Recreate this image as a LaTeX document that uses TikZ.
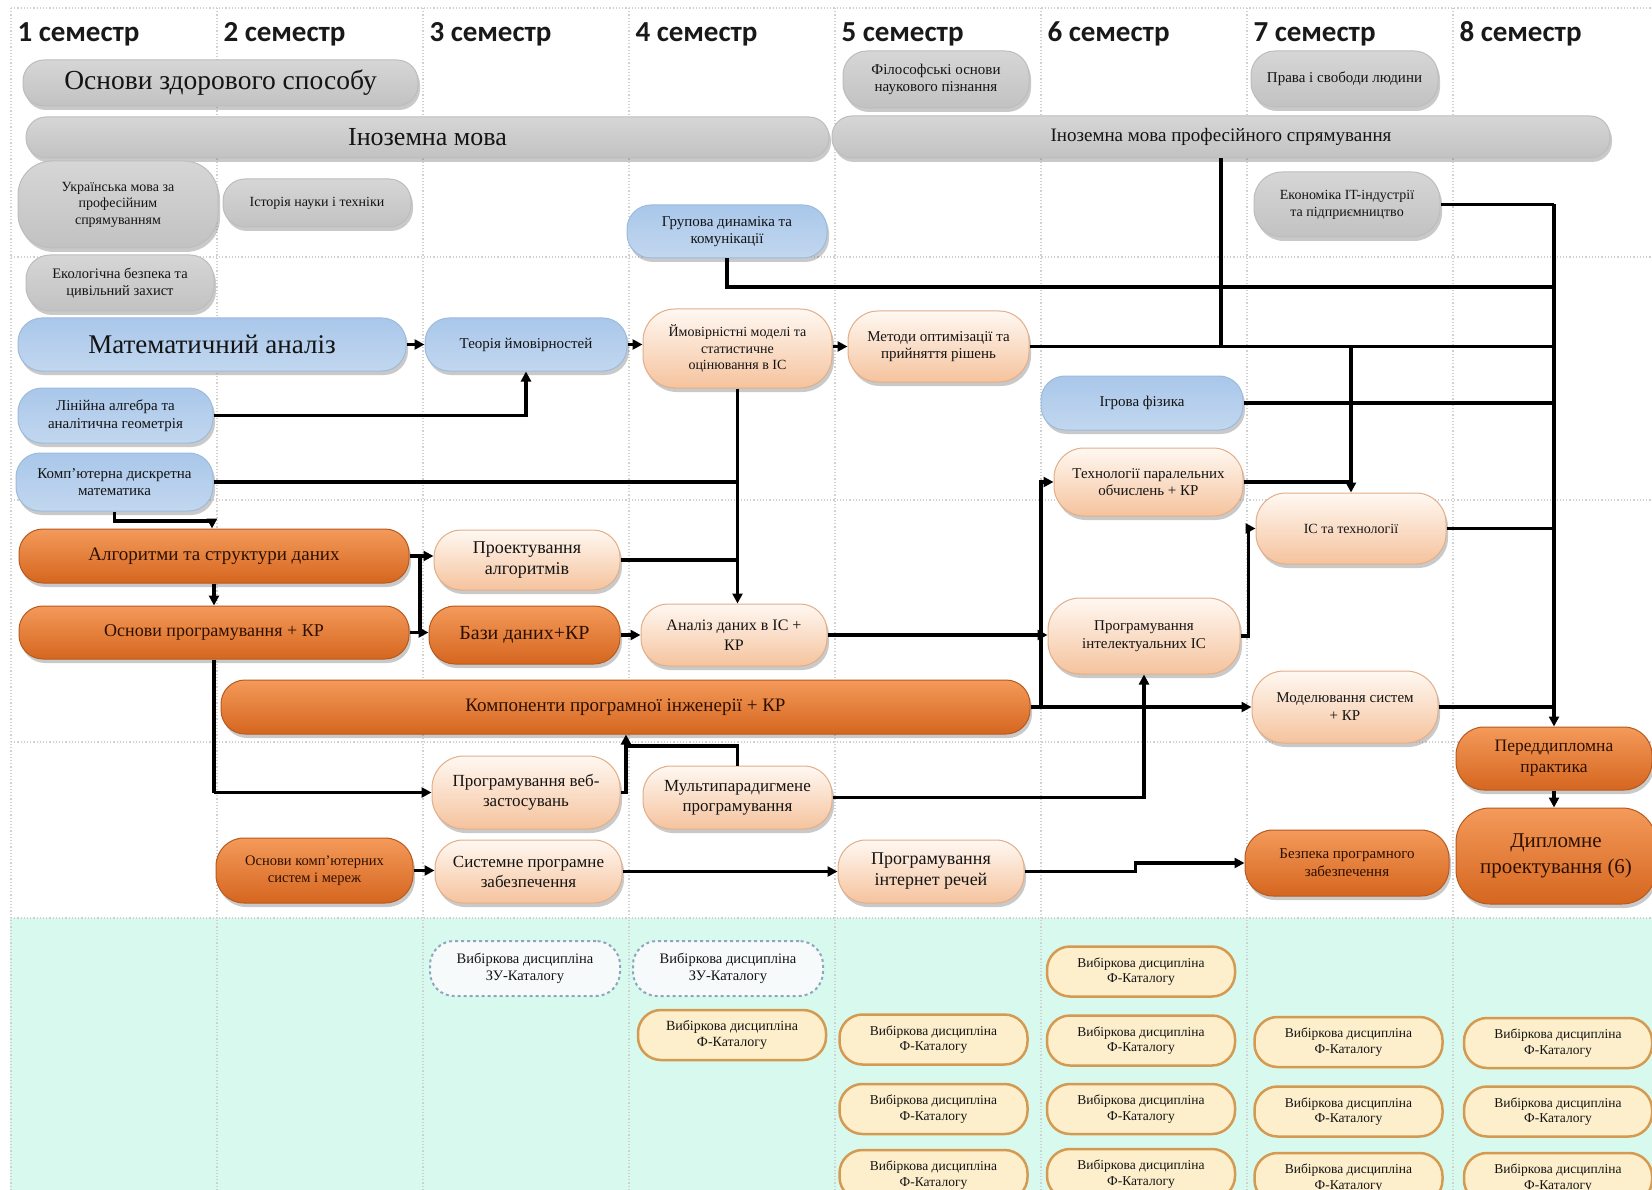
\documentclass[tikz,border=0pt]{standalone}
\usepackage{fontspec}
\setmainfont{Liberation Serif}
\newfontfamily\hdrfont{Carlito}
\usetikzlibrary{shapes.misc,shadows,arrows.meta,calc}
\definecolor{grTop}{HTML}{D6D6D6}
\definecolor{grMid}{HTML}{F4F4F4}
\definecolor{grBot}{HTML}{C2C2C2}
\definecolor{grLine}{HTML}{BDBDBD}
\definecolor{blTop}{HTML}{A9C7EA}
\definecolor{blMid}{HTML}{E6EFFA}
\definecolor{blBot}{HTML}{C2D7EF}
\definecolor{blLine}{HTML}{9DBBDD}
\definecolor{peTop}{HTML}{FFF8F2}
\definecolor{peBot}{HTML}{F5C39D}
\definecolor{peLine}{HTML}{E2AE88}
\definecolor{orTop}{HTML}{F49A5A}
\definecolor{orMid}{HTML}{EC7C37}
\definecolor{orBot}{HTML}{D5661F}
\definecolor{orLine}{HTML}{B85A1E}
\definecolor{orTxt}{HTML}{2E1000}
\definecolor{elFill}{HTML}{FDEFCB}
\definecolor{elLine}{HTML}{D59A52}
\definecolor{zuFill}{HTML}{F7FAFB}
\definecolor{zuLine}{HTML}{8EA6BD}
\definecolor{mint}{HTML}{D8FAEE}
\definecolor{txt}{HTML}{141414}
\definecolor{gridc}{HTML}{D0D0D0}
\tikzset{
  fs/.style 2 args={font=\fontsize{#1}{#2}\selectfont},
  box/.style={draw, rounded corners=24pt, inner sep=2pt, align=center, line width=1pt,
    text=txt, drop shadow={shadow xshift=2pt, shadow yshift=-4pt, opacity=0.35, fill=black!60}},
  graybox/.style={box, top color=grTop, middle color=grMid, bottom color=grBot, draw=grLine},
  bluebox/.style={box, top color=blTop, middle color=blMid, bottom color=blBot, draw=blLine},
  peachbox/.style={box, top color=peTop, bottom color=peBot, draw=peLine},
  orangebox/.style={box, top color=orTop, middle color=orMid, bottom color=orBot, draw=orLine, text=orTxt},
  electbox/.style={draw=elLine, fill=elFill, rounded corners=23pt, line width=2.5pt, align=center,
    text=txt, inner sep=2pt, minimum width=188, minimum height=50, fs={13.5}{15.5}},
  zubox/.style={draw=zuLine, fill=zuFill, rounded corners=24pt, line width=2pt, dashed, align=center,
    text=txt, inner sep=2pt, minimum width=190, minimum height=55, fs={14.5}{16.5}},
  hdr/.style={anchor=west, font=\hdrfont\bfseries\fontsize{29}{32}\selectfont, text=black!90},
  gridl/.style={gridc, dotted, line width=1.2pt},
  conn/.style={line width=3.2pt, black},
  arr/.style={conn, -{Triangle[length=10pt,width=10pt]}},
}
\begin{document}
\begin{tikzpicture}[x=1pt,y=-1pt]
\useasboundingbox (0,0) rectangle (1652,1190);
\clip (0,0) rectangle (1652,1190);
\fill[white] (0,0) rectangle (1652,1190);
\fill[mint] (10,918) rectangle (1652,1190);
\foreach \x in {11,217,423,629,835,1041,1247,1453} \draw[gridl] (\x,8) -- (\x,1190);
\foreach \y in {8,257,500,742,918} \draw[gridl] (11,\y) -- (1652,\y);

% headers
\node[hdr] (h1) at (14,34) {1 семестр};
\node[hdr] (h2) at (220,34) {2 семестр};
\node[hdr] (h3) at (426,34) {3 семестр};
\node[hdr] (h4) at (632,34) {4 семестр};
\node[hdr] (h5) at (838,34) {5 семестр};
\node[hdr] (h6) at (1044,34) {6 семестр};
\node[hdr] (h7) at (1250,34) {7 семестр};
\node[hdr] (h8) at (1456,34) {8 семестр};

% gray
\node[graybox, rounded corners=21pt, fs={27.5}{30}, minimum width=395, minimum height=46] (g1) at (220.5,83) {Основи здорового способу};
\node[graybox, rounded corners=20pt, fs={26}{30}, minimum width=803, minimum height=41] (g2) at (427.5,137.5) {Іноземна мова};
\node[graybox, rounded corners=20pt, fs={19}{22}, minimum width=778, minimum height=42] (g3) at (1221,137) {Іноземна мова професійного спрямування};
\node[graybox, fs={15}{17}, minimum width=186, minimum height=57] (g4) at (936,79.5) {Філософські основи\\наукового пізнання};
\node[graybox, fs={15}{17}, minimum width=187, minimum height=56] (g5) at (1344.5,79) {Права і свободи людини};
\node[graybox, rounded corners=34pt, fs={14}{16.5}, minimum width=200, minimum height=87] (g6) at (118,204.5) {Українська мова за\\професійним\\спрямуванням};
\node[graybox, rounded corners=22pt, fs={14}{16}, minimum width=188, minimum height=48] (g7) at (317,203) {Історія науки і техніки};
\node[graybox, fs={14.5}{17}, minimum width=188, minimum height=56] (g8) at (120,283) {Екологічна безпека та\\цивільний захист};
\node[graybox, rounded corners=28pt, fs={14}{17}, minimum width=186, minimum height=65] (g9) at (1347,204.5) {Економіка IT-індустрії\\та підприємництво};

% blue
\node[bluebox, fs={15}{17}, minimum width=200, minimum height=53] (b1) at (727,231.5) {Групова динаміка та\\комунікації};
\node[bluebox, fs={27}{30}, minimum width=388, minimum height=53] (b2) at (212,344.5) {Математичний аналіз};
\node[bluebox, fs={15}{17}, minimum width=202, minimum height=53] (b3) at (526,344.5) {Теорія ймовірностей};
\node[bluebox, fs={15}{17.5}, minimum width=195, minimum height=55] (b4) at (115.5,415.5) {Лінійна алгебра та\\аналітична геометрія};
\node[bluebox, fs={15}{17.5}, minimum width=197, minimum height=58] (b5) at (114.5,482) {Комп'ютерна дискретна\\математика};
\node[bluebox, fs={15}{17}, minimum width=202, minimum height=54] (b6) at (1142,403) {Ігрова фізика};

% peach
\node[peachbox, rounded corners=32pt, fs={14}{16.5}, minimum width=189, minimum height=79] (p1) at (737.5,348.5) {Ймовірністні моделі та\\статистичне\\оцінювання в ІС};
\node[peachbox, rounded corners=30pt, fs={15}{17.5}, minimum width=181, minimum height=71] (p2) at (938.5,346.5) {Методи оптимізації та\\прийняття рішень};
\node[peachbox, rounded corners=27pt, fs={18}{21}, minimum width=186, minimum height=60] (p3) at (527,560) {Проектування\\алгоритмів};
\node[peachbox, rounded corners=27pt, fs={16}{20}, minimum width=186, minimum height=62] (p4) at (734,635) {Аналіз даних в ІС +\\КР};
\node[peachbox, rounded corners=30pt, fs={15}{17.5}, minimum width=189, minimum height=68] (p5) at (1148.5,482) {Технології паралельних\\обчислень + КР};
\node[peachbox, rounded corners=30pt, fs={14}{16}, minimum width=190, minimum height=71] (p6) at (1351,528.5) {ІС та технології};
\node[peachbox, rounded corners=32pt, fs={15}{17.5}, minimum width=192, minimum height=76] (p7) at (1144,636) {Програмування\\інтелектуальних ІС};
\node[peachbox, rounded corners=32pt, fs={15}{18}, minimum width=186, minimum height=72] (p8) at (1345,707) {Моделювання систем\\+ КР};
\node[peachbox, rounded corners=32pt, fs={17}{20}, minimum width=188, minimum height=73] (p9) at (526,792.5) {Програмування веб-\\застосувань};
\node[peachbox, rounded corners=28pt, fs={17}{20}, minimum width=189, minimum height=63] (p10) at (737.5,797.5) {Мультипарадигмене\\програмування};
\node[peachbox, rounded corners=28pt, fs={17}{20}, minimum width=187, minimum height=63] (p11) at (528.5,871.5) {Системне програмне\\забезпечення};
\node[peachbox, rounded corners=28pt, fs={18}{21}, minimum width=186, minimum height=63] (p12) at (931,871.5) {Програмування\\інтернет речей};

% orange
\node[orangebox, fs={19}{22}, minimum width=390, minimum height=54] (o1) at (214,556) {Алгоритми та структури даних};
\node[orangebox, fs={18}{21}, minimum width=390, minimum height=53] (o2) at (214,632.5) {Основи програмування + КР};
\node[orangebox, rounded corners=26pt, fs={20}{23}, minimum width=191, minimum height=58] (o3) at (524.5,635) {Бази даних+КР};
\node[orangebox, fs={19}{22}, minimum width=809, minimum height=54] (o4) at (625.5,707) {Компоненти програмної інженерії + КР};
\node[orangebox, rounded corners=28pt, fs={14.5}{17}, minimum width=197, minimum height=65] (o5) at (314.5,870.5) {Основи комп'ютерних\\систем і мереж};
\node[orangebox, rounded corners=28pt, fs={15}{18}, minimum width=204, minimum height=66] (o6) at (1347,863) {Безпека програмного\\забезпечення};
\node[orangebox, rounded corners=28pt, fs={17.5}{21}, minimum width=196, minimum height=63] (o7) at (1554,758.5) {Переддипломна\\практика};
\node[orangebox, rounded corners=34pt, fs={21}{26}, minimum width=200, minimum height=96] (o8) at (1556,856) {Дипломне\\проектування (6)};

% electives
\node[zubox] (z1) at (525,968.5) {Вибіркова дисципліна\\ЗУ-Каталогу};
\node[zubox] (z2) at (728,968.5) {Вибіркова дисципліна\\ЗУ-Каталогу};
\node[electbox, fs={14}{16}] (e4a) at (732,1035) {Вибіркова дисципліна\\Ф-Каталогу};
\node[electbox] (e5a) at (933.5,1039.5) {Вибіркова дисципліна\\Ф-Каталогу};
\node[electbox] (e5b) at (933.5,1109) {Вибіркова дисципліна\\Ф-Каталогу};
\node[electbox] (e5c) at (933.5,1175) {Вибіркова дисципліна\\Ф-Каталогу};
\node[electbox] (e6a) at (1141,971.5) {Вибіркова дисципліна\\Ф-Каталогу};
\node[electbox] (e6b) at (1141,1040.5) {Вибіркова дисципліна\\Ф-Каталогу};
\node[electbox] (e6c) at (1141,1109) {Вибіркова дисципліна\\Ф-Каталогу};
\node[electbox] (e6d) at (1141,1174) {Вибіркова дисципліна\\Ф-Каталогу};
\node[electbox] (e7a) at (1348.5,1042) {Вибіркова дисципліна\\Ф-Каталогу};
\node[electbox] (e7b) at (1348.5,1111.5) {Вибіркова дисципліна\\Ф-Каталогу};
\node[electbox] (e7c) at (1348.5,1178) {Вибіркова дисципліна\\Ф-Каталогу};
\node[electbox] (e8a) at (1558,1043) {Вибіркова дисципліна\\Ф-Каталогу};
\node[electbox] (e8b) at (1558,1111.5) {Вибіркова дисципліна\\Ф-Каталогу};
\node[electbox] (e8c) at (1558,1178) {Вибіркова дисципліна\\Ф-Каталогу};

% junction coordinates
\coordinate (k1) at (212,521);
\coordinate (j2) at (420,556);
\coordinate (j3) at (1041,707);
\coordinate (k3) at (626,792.5);
\coordinate (k4) at (626,746);
\coordinate (gd) at (1554,287);

% connectors
\draw[arr] (b2.east) -- (b3.west);
\draw[arr] (b3.east) -- (b3.east -| p1.west);
\draw[arr] (p1.east |- p2.west) -- (p2.west);
\draw[arr] (b4.east) -| (b3.south);
\draw[conn] (b5.east) -- (b5.east -| p1.south);
\draw[conn] (p3.east) -- (p3.east -| p1.south);
\draw[arr] (p1.south) -- (p1.south |- p4.north);
\draw[arr] (b5.south) |- (k1) -- (k1 |- o1.north);
\draw[arr] (o1.south) -- (o2.north);
\draw[conn] (o1.east) -- (j2) -- (j2 |- o2.east) -- (o2.east);
\draw[arr] (j2) -- (j2 -| p3.west);
\draw[arr] (j2 |- o2.east) -- (o3.west |- o2.east);
\draw[arr] (o3.east) -- (o3.east -| p4.west);
\draw[arr] (p4.east) -- (p4.east -| p7.west);
\draw[conn] (o4.east) -- (j3);
\draw[arr] (j3) |- (p5.west);
\draw[arr] (j3) -- (j3 -| p8.west);
\draw[arr] (p10.east) -| (p7.south);
\draw[arr] (p7.east) -- ++(8,0) |- (p6.west);
\draw[conn] (g3.south) -- (g3.south |- p2.east);
\draw[conn] (p2.east) -- (p2.east -| o7.north);
\draw[arr] (p2.east -| p6.north) -- (p6.north);
\draw[conn] (p5.east) -- (p5.east -| p6.north);
\draw[conn] (g9.east) -- (g9.east -| o7.north);
\draw[conn] (b1.south) |- (gd);
\draw[arr] (g9.east -| o7.north) -- (o7.north);
\draw[conn] (b6.east) -- (b6.east -| o7.north);
\draw[conn] (p6.east) -- (p6.east -| o7.north);
\draw[conn] (p8.east) -- (p8.east -| o7.north);
\draw[arr] (o7.south) -- (o7.south |- o8.north);
\draw[conn] (o2.south) -- (o2.south |- p9.west);
\draw[arr] (o2.south |- p9.west) -- (p9.west);
\draw[arr] (p9.east) -- (k3) -- (k3 |- o4.south);
\draw[conn] (p10.north) |- (k4);
\draw[arr] (o5.east) -- (o5.east -| p11.west);
\draw[arr] (p11.east) -- (p11.east -| p12.west);
\draw[arr] (p12.east) -- ++(111,0) |- (o6.west);
\end{tikzpicture}
\end{document}
